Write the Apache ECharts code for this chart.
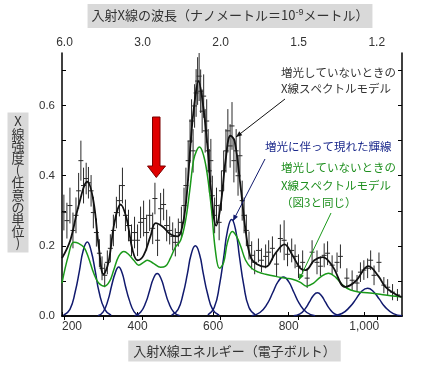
<!DOCTYPE html>
<html><head><meta charset="utf-8">
<script src="https://cdn.jsdelivr.net/npm/echarts@6/dist/echarts.min.js"></script>
<style>html,body{margin:0;padding:0;background:#fff}#c{width:424px;height:370px}</style>
</head><body><div id="c"></div>
<script>
// ---- observed data (energy eV, intensity, 1-sigma error) ----
const obsE = [205,213,221,229,237,244,250,257,264,270,
  277,283,291,299,306,313,320,328,336,344,
  352,360,368,376,384,392,400,408,416,424,
  432,440,446,453,461,469,477,485,493,500,
  508,516,523,528,534,539,543,547,551,555,
  559,563,567,571,575,579,583,587,590,594,
  598,604,609,616,622,628,634,639,645,650,
  655,661,666,671,677,682,688,695,702,710,
  720,728,739,747,757,768,778,788,797,808,
  817,826,837,849,862,875,884,894,903,915,
  928,937,954,968,981,990,999,1009,1017,1026,
  1039,1052,1062,1075,1088];
const obsV = [0.295,0.272,0.315,0.244,0.287,0.357,0.443,0.372,0.392,0.380,
  0.357,0.295,0.238,0.179,0.136,0.116,0.153,0.193,0.244,0.295,
  0.329,0.372,0.287,0.258,0.216,0.238,0.216,0.267,0.278,0.238,
  0.287,0.250,0.335,0.216,0.306,0.318,0.258,0.244,0.227,0.210,
  0.238,0.267,0.315,0.372,0.443,0.499,0.556,0.471,0.599,0.636,
  0.670,0.684,0.641,0.584,0.627,0.528,0.556,0.471,0.414,0.443,
  0.343,0.287,0.315,0.267,0.357,0.414,0.471,0.528,0.485,0.542,
  0.443,0.471,0.400,0.457,0.329,0.287,0.244,0.201,0.173,0.153,
  0.187,0.159,0.170,0.182,0.193,0.148,0.221,0.216,0.176,0.187,
  0.170,0.142,0.153,0.108,0.182,0.153,0.142,0.173,0.179,0.145,
  0.153,0.170,0.108,0.102,0.094,0.125,0.131,0.136,0.159,0.116,
  0.153,0.088,0.082,0.068,0.060];
const obsErr = [0.051,0.051,0.051,0.051,0.051,0.051,0.057,0.051,0.045,0.045,
  0.045,0.045,0.040,0.040,0.034,0.034,0.034,0.040,0.045,0.045,
  0.045,0.051,0.045,0.045,0.045,0.045,0.045,0.045,0.051,0.051,
  0.045,0.045,0.045,0.045,0.045,0.045,0.045,0.040,0.040,0.040,
  0.040,0.045,0.051,0.051,0.057,0.062,0.062,0.062,0.062,0.068,
  0.068,0.071,0.062,0.062,0.062,0.062,0.062,0.062,0.062,0.062,
  0.057,0.051,0.051,0.051,0.057,0.057,0.062,0.062,0.062,0.068,
  0.062,0.062,0.057,0.062,0.057,0.051,0.045,0.040,0.040,0.034,
  0.034,0.034,0.034,0.034,0.034,0.034,0.040,0.057,0.034,0.034,
  0.034,0.034,0.034,0.028,0.034,0.034,0.028,0.034,0.034,0.028,
  0.028,0.034,0.028,0.028,0.023,0.028,0.028,0.028,0.028,0.028,
  0.028,0.023,0.023,0.023,0.017];

// ---- full model (black) ----
const modelCurve = [[200,0.165],[222,0.216],[244,0.315],[267,0.383],[283,0.329],[297,0.201],[310,0.119],[323,0.153],[339,0.267],[355,0.318],[371,0.278],[387,0.187],[400,0.159],[416,0.173],[434,0.227],[448,0.265],[466,0.255],[487,0.233],[506,0.227],[519,0.258],[530,0.343],[543,0.528],[553,0.627],[561,0.670],[572,0.613],[585,0.485],[596,0.343],[608,0.258],[620,0.315],[633,0.443],[646,0.514],[657,0.499],[673,0.366],[686,0.244],[699,0.168],[715,0.148],[739,0.140],[765,0.179],[789,0.204],[810,0.173],[831,0.136],[845,0.131],[868,0.159],[890,0.168],[916,0.142],[950,0.083],[977,0.099],[1011,0.142],[1038,0.113],[1056,0.083],[1083,0.062],[1100,0.054]];

// ---- quiescent model (green) ----
const quietCurve = [[200,0.094],[217,0.173],[231,0.210],[244,0.207],[258,0.196],[270,0.167],[284,0.122],[297,0.094],[313,0.085],[326,0.099],[337,0.131],[350,0.170],[364,0.184],[376,0.176],[390,0.159],[403,0.145],[416,0.153],[426,0.159],[442,0.150],[461,0.139],[474,0.142],[487,0.165],[500,0.196],[514,0.216],[527,0.272],[538,0.357],[548,0.443],[556,0.471],[564,0.482],[575,0.457],[585,0.400],[596,0.301],[606,0.187],[617,0.136],[628,0.153],[638,0.210],[651,0.241],[662,0.227],[673,0.199],[686,0.159],[702,0.136],[720,0.125],[739,0.119],[765,0.113],[792,0.108],[810,0.105],[831,0.096],[847,0.085],[866,0.094],[884,0.111],[905,0.122],[924,0.111],[943,0.088],[964,0.074],[990,0.068],[1022,0.065],[1056,0.060],[1100,0.054]];

// ---- emission lines (navy) ----
const line1 = [[204,0.002],[221,0.019],[235,0.069],[246,0.128],[256,0.186],[267,0.211],[277,0.186],[288,0.128],[298,0.069],[313,0.019],[330,0.002]];
const line2 = [[295,0.001],[309,0.012],[322,0.046],[331,0.085],[341,0.123],[350,0.140],[359,0.123],[368,0.085],[378,0.046],[391,0.012],[405,0.001]];
const line3 = [[392,0.001],[408,0.011],[422,0.039],[432,0.073],[442,0.107],[452,0.121],[462,0.107],[472,0.073],[482,0.039],[496,0.011],[512,0.001]];
const line4 = [[490,0.002],[507,0.018],[521,0.065],[532,0.121],[542,0.176],[553,0.200],[564,0.176],[574,0.121],[585,0.065],[599,0.018],[616,0.002]];
const line5 = [[586,0.003],[603,0.024],[617,0.089],[628,0.167],[638,0.243],[649,0.275],[660,0.243],[670,0.167],[681,0.089],[695,0.024],[712,0.003]];
const line6 = [[702,0.001],[724,0.010],[744,0.036],[758,0.067],[772,0.098],[786,0.111],[800,0.098],[814,0.067],[828,0.036],[848,0.010],[870,0.001]];
const line7 = [[813,0.001],[830,0.006],[844,0.021],[855,0.040],[865,0.058],[876,0.066],[887,0.058],[897,0.040],[908,0.021],[922,0.006],[939,0.001]];
const line8 = [[916,0.001],[941,0.007],[962,0.026],[978,0.048],[993,0.070],[1009,0.079],[1024,0.070],[1040,0.048],[1055,0.026],[1077,0.007],[1100,0.001]];

// ---- axes ----
const xTicks = [200,400,600,800,1000];
const yTickVals = [0,0.1,0.2,0.3,0.4,0.5,0.6,0.7];
const yLabelVals = [0,0.2,0.4,0.6];
const topTickNm = [6,4,3,2,1.5,1.2];
const topLabelNm = [6,3,2,1.5,1.2];
const HC = 1239.84; // eV*nm
const xTitleTopParts = ['入射X線の波長（ナノメートル＝10', '-9', 'メートル）'];
const xTitleBottom = '入射X線エネルギー（電子ボルト）';
const yTitleChars = ['X','線','強','度','(','任','意','の','単','位',')'];
const noteBlack = '増光していないときの\nX線スペクトルモデル';
const noteNavy = '増光に伴って現れた輝線';
const noteGreen = '増光していないときの\nX線スペクトルモデル\n（図3と同じ）';

const JP = '"Noto Sans CJK JP"';
const NUM = '"Liberation Sans", Arial, sans-serif';
const NAVY = '#111a6e';
const GREEN = '#1a991a';

function head(x1,y1,x2,y2,len,w){
  const a=Math.atan2(y2-y1,x2-x1);
  const bx=x2-len*Math.cos(a), by=y2-len*Math.sin(a);
  const nx=-Math.sin(a)*w, ny=Math.cos(a)*w;
  return [[x2,y2],[bx+nx,by+ny],[bx-nx,by-ny]];
}
function pointer(x1,y1,x2,y2,color){
  return [
    {type:'line', shape:{x1,y1,x2,y2}, style:{stroke:color, lineWidth:1}, z:50},
    {type:'polygon', shape:{points:head(x1,y1,x2,y2,6,2.5)}, style:{fill:color}, z:50}
  ];
}

const chart = echarts.init(document.getElementById('c'), null, {renderer:'canvas'});
const axisLineStyle = {lineStyle:{color:'#000', width:1.5}};
const navyLines = [line1,line2,line3,line4,line5,line6,line7,line8].map(d=>({
  type:'line', data:d, smooth:0.5, showSymbol:false, silent:true,
  lineStyle:{color:NAVY, width:1.5}, z:3
}));

chart.setOption({
  animation:false,
  grid:{left:62, right:22, top:53, bottom:54},
  xAxis:[
    {type:'value', min:200, max:1100, position:'bottom',
     axisLine:axisLineStyle, splitLine:{show:false},
     axisTick:{inside:true, length:4, customValues:xTicks, lineStyle:{color:'#000'}},
     axisLabel:{customValues:xTicks, margin:5, color:'#333', fontSize:12, fontFamily:NUM,
       alignMinLabel:'left', formatter:v=>v.toLocaleString('en-US')}},
    {type:'value', min:200, max:1100, position:'top',
     axisLine:axisLineStyle, splitLine:{show:false},
     axisTick:{inside:true, length:4, customValues:topTickNm.map(n=>HC/n), lineStyle:{color:'#000'}},
     axisLabel:{customValues:topLabelNm.map(n=>HC/n), margin:4, color:'#333', fontSize:12, fontFamily:NUM,
       formatter:v=>(HC/v).toFixed(1)}}
  ],
  yAxis:[
    {type:'value', min:0, max:0.75, position:'left',
     axisLine:axisLineStyle, splitLine:{show:false},
     axisTick:{inside:true, length:4, customValues:yTickVals, lineStyle:{color:'#000'}},
     axisLabel:{customValues:yLabelVals, margin:7, color:'#333', fontSize:11.5, fontFamily:NUM,
       formatter:v=>v.toFixed(1)}},
    {type:'value', min:0, max:0.75, position:'right',
     axisLine:axisLineStyle, splitLine:{show:false},
     axisTick:{inside:true, length:4, customValues:yTickVals, lineStyle:{color:'#000'}},
     axisLabel:{show:false}}
  ],
  series:[
    {type:'custom', xAxisIndex:0, yAxisIndex:0, silent:true, z:1,
     data:obsE.map((e,i)=>[e, obsV[i], obsErr[i]]),
     encode:{x:0, y:1},
     renderItem:(params, api)=>{
       const x=api.value(0), v=api.value(1), e=api.value(2);
       const t=api.coord([x, Math.min(v+e, 0.75)]), b=api.coord([x, Math.max(v-e,0)]), m=api.coord([x, v]);
       return {type:'group', children:[
         {type:'line', shape:{x1:t[0],y1:t[1],x2:b[0],y2:b[1]}, style:{stroke:'#2a2a2a', lineWidth:1}},
         {type:'line', shape:{x1:m[0]-2.5,y1:m[1],x2:m[0]+2.5,y2:m[1]}, style:{stroke:'#2a2a2a', lineWidth:1}}
       ]};
     }},
    ...navyLines,
    {type:'line', data:quietCurve, smooth:0.4, showSymbol:false, silent:true,
     lineStyle:{color:GREEN, width:1.5}, z:4},
    {type:'line', data:modelCurve, smooth:0.4, showSymbol:false, silent:true,
     lineStyle:{color:'#111', width:1.8}, z:5}
  ],
  graphic:[
    {type:'text', x:230, y:16, z:60, style:{
      text:'{a|'+xTitleTopParts[0]+'}{s|'+xTitleTopParts[1]+'}{a|'+xTitleTopParts[2]+'}',
      rich:{a:{font:'13px '+JP, fill:'#333', lineHeight:15}, s:{font:'9px '+NUM, fill:'#333', lineHeight:9, verticalAlign:'top'}},
      align:'center', verticalAlign:'middle', backgroundColor:'#d9d9d9', padding:[4,4,5,4]}},
    {type:'text', x:234.5, y:351, z:60, style:{text:xTitleBottom, font:'13px '+JP, fill:'#333',
      align:'center', verticalAlign:'middle', backgroundColor:'#d9d9d9', padding:[4,5,4,5]}},
    {type:'text', x:18, y:182.5, z:60, style:{text:yTitleChars.join('\n'), font:'13px '+JP, fill:'#333',
      lineHeight:12.2, align:'center', verticalAlign:'middle', backgroundColor:'#d9d9d9', padding:[3,4,3,4]}},
    {type:'polygon', z:55, shape:{points:[[152.5,117],[160,117],[160,166],[165.5,166],[156.3,177.5],[147.5,166],[152.5,166]]},
      style:{fill:'#e00000', stroke:'#7a0000', lineWidth:1}},
    {type:'text', x:281, y:64, z:60, style:{text:noteBlack, font:'11.5px '+JP, fill:'#333', lineHeight:16.6, align:'left', verticalAlign:'top'}},
    {type:'text', x:265, y:147, z:60, style:{text:noteNavy, font:'11.5px '+JP, fill:'#1c2a8c', align:'left', verticalAlign:'middle'}},
    {type:'text', x:281, y:159, z:60, style:{text:noteGreen, font:'11.5px '+JP, fill:'#1e8f1e', lineHeight:17.5, align:'left', verticalAlign:'top'}},
    ...pointer(285,99,236,137,'#111'),
    ...pointer(265,159,233,221,NAVY),
    ...pointer(331,213,299,280,GREEN)
  ]
});
</script>
</body></html>
